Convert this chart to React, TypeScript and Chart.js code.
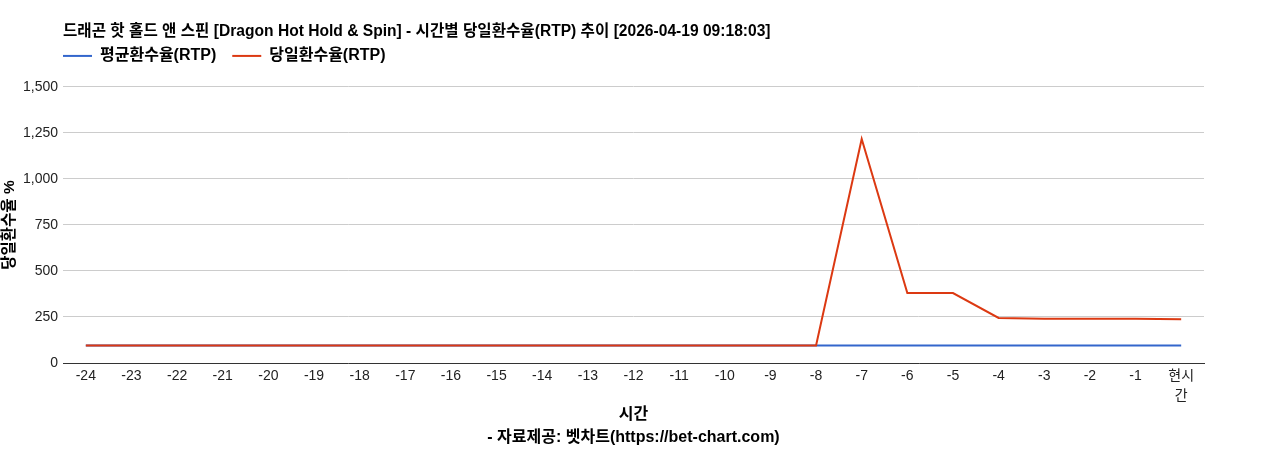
import { Chart, registerables, ChartConfiguration, Plugin } from "chart.js";
import { useRef, useEffect } from "react";

Chart.register(...registerables);

const FONT = '"Liberation Sans", Arial, "Noto Sans CJK KR", sans-serif';

const hourLabels = [
  "-24", "-23", "-22", "-21", "-20", "-19", "-18", "-17", "-16", "-15",
  "-14", "-13", "-12", "-11", "-10", "-9", "-8", "-7", "-6", "-5",
  "-4", "-3", "-2", "-1", "현시간",
];

const avgRtp = [
  95, 95, 95, 95, 95, 95, 95, 95, 95, 95,
  95, 95, 95, 95, 95, 95, 95, 95, 95, 95,
  95, 95, 95, 95, 95,
];

const dailyRtp = [
  95, 95, 95, 95, 95, 95, 95, 95, 95, 95,
  95, 95, 95, 95, 95, 95, 95, 1217, 380, 380,
  245, 241, 240, 240, 238,
];

const yTicks = [0, 250, 500, 750, 1000, 1250, 1500];

const titleText =
  "드래곤 핫 홀드 앤 스핀 [Dragon Hot Hold & Spin] - 시간별 당일환수율(RTP) 추이 [2026-04-19 09:18:03]";

// legend sits flush with the plot's left edge and a bit higher than chart.js puts it
const legendShift: Plugin = {
  id: "legendShift",
  afterLayout(chart) {
    const lg: any = chart.legend;
    if (!lg) return;
    lg.left -= 16;
    lg.right -= 16;
    lg.top -= 13;
    lg.bottom -= 13;
  },
};

export default function App() {
  const chartRef = useRef<HTMLCanvasElement>(null);

  useEffect(() => {
    if (!chartRef.current) return;
    const ctx = chartRef.current.getContext("2d");
    if (!ctx) return;

    const config: ChartConfiguration = {
      type: "line",
      data: {
        labels: hourLabels,
        datasets: [
          {
            label: "평균환수율(RTP)",
            data: avgRtp,
            borderColor: "#3366cc",
            backgroundColor: "#3366cc",
            borderWidth: 2,
            pointRadius: 0,
            order: 2,
          },
          {
            label: "당일환수율(RTP)",
            data: dailyRtp,
            borderColor: "#dc3912",
            backgroundColor: "#dc3912",
            borderWidth: 2,
            pointRadius: 0,
            order: 1,
          },
        ],
      },
      plugins: [legendShift],
      options: {
        responsive: false,
        animation: false,
        layout: { padding: { left: 0, right: 64, top: 0, bottom: 0.5 } },
        plugins: {
          tooltip: { enabled: false },
          title: {
            display: true,
            text: titleText,
            align: "start",
            fullSize: false,
            color: "#000",
            font: { family: FONT, size: 15.6, weight: "bold", lineHeight: 1.2 },
            padding: { top: 22, bottom: 4.2 },
          },
          legend: {
            display: true,
            align: "start",
            fullSize: false,
            labels: {
              usePointStyle: true,
              pointStyle: "line",
              pointStyleWidth: 29,
              color: "#000",
              padding: 16,
              font: { family: FONT, size: 16, weight: "bold" },
              sort: (a, b) => (a.datasetIndex ?? 0) - (b.datasetIndex ?? 0),
            },
          },
        },
        scales: {
          x: {
            offset: true,
            grid: { display: false, drawTicks: false },
            border: { color: "#333", width: 1 },
            ticks: {
              color: "#222",
              maxRotation: 0,
              autoSkip: false,
              padding: 3.5,
              font: { family: FONT, size: 14, lineHeight: 1.4 },
              callback: (_v, i) => {
                const l = hourLabels[i];
                return l.length > 2 && !l.startsWith("-") ? [l.slice(0, 2), l.slice(2)] : l;
              },
            },
            title: {
              display: true,
              text: ["시간", "- 자료제공: 벳차트(https://bet-chart.com)"],
              color: "#000",
              font: { family: FONT, size: 16, weight: "bold", lineHeight: 1.4375 },
              padding: { top: -5.7, bottom: 0 },
            },
          },
          y: {
            min: 0,
            max: 1500,
            afterBuildTicks: (axis) => {
              axis.ticks = yTicks.map((v) => ({ value: v }));
            },
            afterFit: (axis) => {
              axis.width = 63;
            },
            grid: { color: "#cccccc", drawTicks: false },
            border: { display: false },
            ticks: {
              color: "#222",
              padding: 5,
              font: { family: FONT, size: 14 },
              callback: (v) => Number(v).toLocaleString("en-US"),
            },
            title: {
              display: true,
              text: "당일환수율 %",
              color: "#000",
              font: { family: FONT, size: 15.5, weight: "bold", lineHeight: 1.2 },
              padding: { top: 0.6, bottom: 0 },
            },
          },
        },
      },
    };

    const chart = new Chart(ctx, config);
    return () => chart.destroy();
  }, []);

  return (
    <div style={{ position: "absolute", left: 0, top: 0, width: 1268, height: 450, background: "#fff" }}>
      <canvas ref={chartRef} width={1268} height={450} style={{ display: "block" }} />
    </div>
  );
}
